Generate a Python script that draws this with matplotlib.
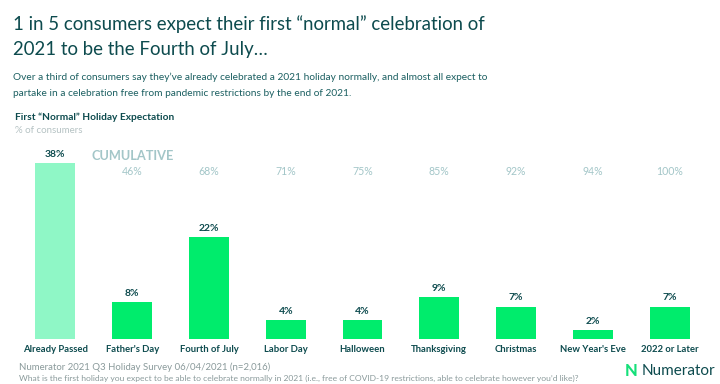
import matplotlib
matplotlib.use("Agg")
import matplotlib.pyplot as plt

plt.rcParams['font.family'] = ['Lato', 'DejaVu Sans']

# data
holidays = ["Already Passed", "Father's Day", "Fourth of July", "Labor Day",
            "Halloween", "Thanksgiving", "Christmas", "New Year's Eve",
            "2022 or Later"]
share = [38, 8, 22, 4, 4, 9, 7, 2, 7]
cumulative = [38, 46, 68, 71, 75, 85, 92, 94, 100]

dark = '#0d4b4e'
teal = '#1b5f61'
cum_col = '#a3c6c8'
grey = '#8a9a9b'
mint = '#8ff7c6'
green = '#00ec6c'

W, H = 720, 384
fig = plt.figure(figsize=(W / 100, H / 100), dpi=100)
fig.patch.set_facecolor('white')

def fx(px):
    return px / W

def fy(py):
    return 1 - py / H

# chart area: baseline at y=339px, 4.63 px per percent
base = 339
ppp = 4.63
ymax = 40
ax = fig.add_axes([fx(17), fy(base), fx(708) - fx(17), (ymax * ppp) / H])
colors = [mint] + [green] * (len(share) - 1)
xs = range(len(holidays))
ax.bar(xs, share, width=0.52, color=colors, zorder=2)
for x, v in zip(xs, share):
    ax.annotate(f"{v}%", (x, v), xytext=(0, 3), textcoords='offset points',
                ha='center', va='bottom', fontsize=7.5, fontweight='bold',
                color=dark)
    ax.annotate(holidays[x], (x, 0), xytext=(0, -4), textcoords='offset points',
                ha='center', va='top', fontsize=6.8, fontweight='bold',
                color=dark)
ax.set_xlim(-0.5, len(holidays) - 0.5)
ax.set_ylim(0, ymax)
ax.axis('off')

# cumulative row
cum_y = (base - 171.5) / ppp
for x, c in list(zip(xs, cumulative))[1:]:
    ax.text(x, cum_y, f"{c}%", ha='center', va='center', fontsize=7.6,
            color=cum_col)
fig.text(fx(92), fy(156), "CUMULATIVE", ha='left', va='center',
         fontsize=9.2, fontweight='bold', color=cum_col)

# headings
fig.text(fx(13), fy(24), "1 in 5 consumers expect their first \u201cnormal\u201d celebration of",
         ha='left', va='center', fontsize=13.4, color=dark)
fig.text(fx(13), fy(50), "2021 to be the Fourth of July\u2026",
         ha='left', va='center', fontsize=13.4, color=dark)
fig.text(fx(13), fy(77), "Over a third of consumers say they\u2019ve already celebrated a 2021 holiday normally, "
         "and almost all expect to", ha='left', va='center', fontsize=7.25, color=teal)
fig.text(fx(13), fy(93), "partake in a celebration free from pandemic restrictions by the end of 2021.",
         ha='left', va='center', fontsize=7.25, color=teal)
fig.text(fx(15), fy(117), "First \u201cNormal\u201d Holiday Expectation",
         ha='left', va='center', fontsize=7.3, fontweight='bold', color=dark)
fig.text(fx(15), fy(131), "% of consumers", ha='left', va='center',
         fontsize=7, color='#b5c2c3')

# footer
fig.text(fx(19), fy(367), "Numerator 2021 Q3 Holiday Survey 06/04/2021 (n=2,016)",
         ha='left', va='center', fontsize=6.9, color=grey)
fig.text(fx(19), fy(378), "What is the first holiday you expect to be able to celebrate normally "
         "in 2021 (i.e., free of COVID-19 restrictions, able to celebrate however you\u2019d like)?",
         ha='left', va='center', fontsize=6.1, color=grey)

# logo
fig.text(fx(625), fy(371), "N", ha='left', va='center', fontsize=12,
         fontweight='black', color='#16e07a')
fig.text(fx(642), fy(371), "Numerator", ha='left', va='center', fontsize=11,
         color=dark)

fig.savefig("out.png", dpi=100, facecolor='white')
